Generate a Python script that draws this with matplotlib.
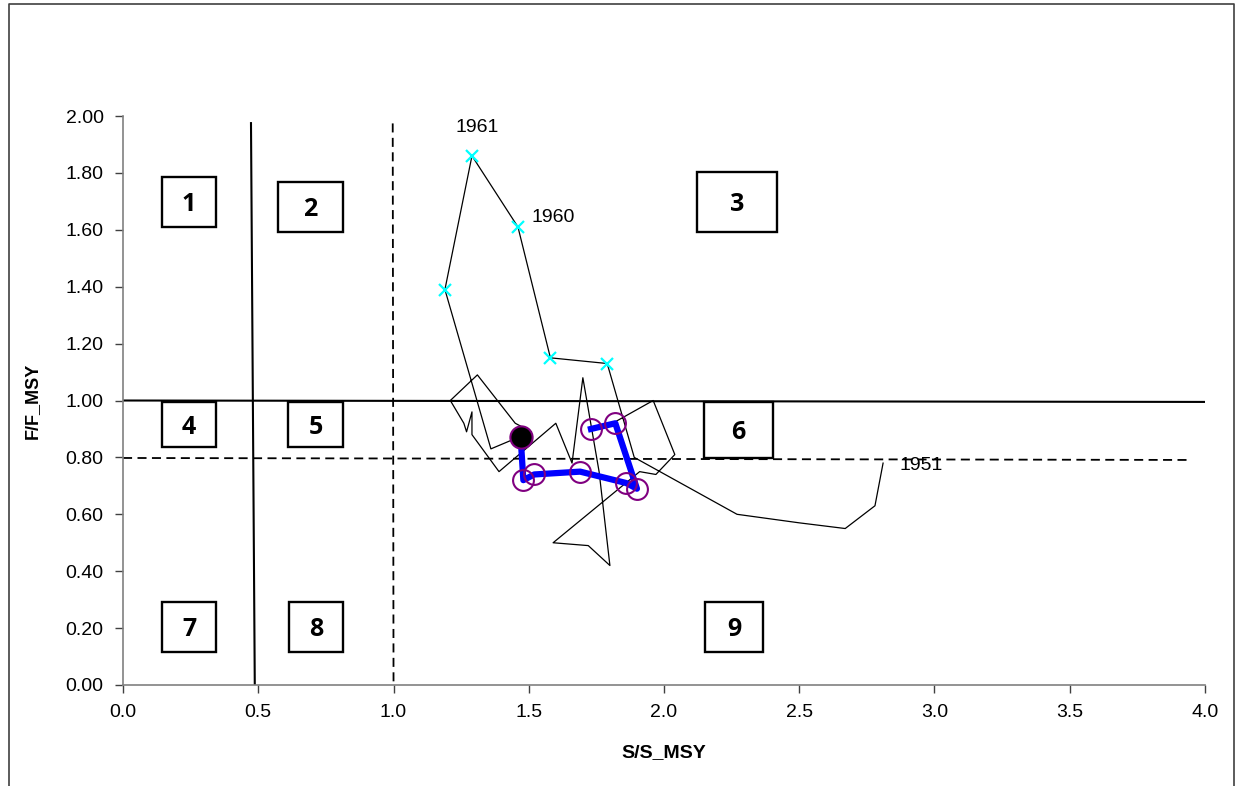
import matplotlib
matplotlib.use('Agg')
import matplotlib.pyplot as plt
from matplotlib.patches import Rectangle
from matplotlib.lines import Line2D

# stock trajectory S/S_MSY, F/F_MSY (1951 first)
traj_s = [2.81, 2.78, 2.67, 2.50, 2.27, 1.89, 1.79, 1.58, 1.46, 1.29, 1.19,
          1.36, 1.51, 1.45, 1.31, 1.21, 1.26, 1.27, 1.29, 1.29, 1.39, 1.60,
          1.66, 1.70, 1.76, 1.80, 1.72, 1.59, 1.91, 1.97, 2.04, 1.96, 1.81]
traj_f = [0.78, 0.63, 0.55, 0.57, 0.60, 0.80, 1.13, 1.15, 1.61, 1.86, 1.39,
          0.83, 0.89, 0.92, 1.09, 1.00, 0.92, 0.89, 0.96, 0.88, 0.75, 0.92,
          0.78, 1.08, 0.75, 0.42, 0.49, 0.50, 0.75, 0.74, 0.81, 1.00, 0.92]
# years marked with a cross (indices into the trajectory)
cross_idx = [6, 7, 8, 9, 10]

# recent years
recent_s = [1.73, 1.82, 1.90, 1.86, 1.69, 1.52, 1.48, 1.47]
recent_f = [0.90, 0.92, 0.69, 0.71, 0.75, 0.74, 0.72, 0.87]

year_labels = ['1961', '1960', '1951']
year_pos = [(1.23, 1.96), (1.51, 1.645), (2.87, 0.77)]

zone_labels = ['1', '2', '3', '4', '5', '6', '7', '8', '9']
# box extents x0, x1, y0, y1
zone_boxes = [(0.144, 0.344, 1.610, 1.786), (0.573, 0.813, 1.592, 1.768),
              (2.122, 2.418, 1.592, 1.803), (0.144, 0.344, 0.837, 0.995),
              (0.610, 0.813, 0.837, 0.995), (2.148, 2.403, 0.798, 0.995),
              (0.144, 0.344, 0.116, 0.292), (0.614, 0.813, 0.116, 0.292),
              (2.152, 2.366, 0.116, 0.292)]

plt.rcParams['font.family'] = ['Liberation Sans', 'DejaVu Sans']

fig = plt.figure(figsize=(12.38, 7.86), dpi=100)
fig.add_artist(Line2D([0.0073, 0.0073, 0.9968, 0.9968], [0.0, 0.9949, 0.9949, 0.0],
                      color='#404040', lw=1.2, transform=fig.transFigure))

ax = fig.add_axes([0.0994, 0.1285, 0.8739, 0.7239])
ax.set_xlim(0, 4.0)
ax.set_ylim(0, 2.0)
for sp in ['top', 'right']:
   ax.spines[sp].set_visible(False)
for sp in ['left', 'bottom']:
   ax.spines[sp].set_color('#808080')
   ax.spines[sp].set_linewidth(1.2)
ax.set_xticks([0.0, 0.5, 1.0, 1.5, 2.0, 2.5, 3.0, 3.5, 4.0])
ax.set_xticklabels(['%.1f' % v for v in ax.get_xticks()])
ax.set_yticks([0.0, 0.2, 0.4, 0.6, 0.8, 1.0, 1.2, 1.4, 1.6, 1.8, 2.0])
ax.set_yticklabels(['%.2f' % v for v in ax.get_yticks()])
ax.tick_params(direction='out', length=6, width=1, color='#404040', labelsize=14, pad=8)
ax.set_xlabel('S/S_MSY', fontsize=14, fontweight='bold', labelpad=16)
ax.set_ylabel('F/F_MSY', fontsize=13, fontweight='bold', labelpad=18)

# reference lines
ax.plot([0.473, 0.487], [1.975, 0.0], color='black', lw=1.5)
ax.plot([0.997, 1.0], [1.974, 0.0], color='black', lw=1.3, ls=(0, (5, 3)))
ax.plot([0.0, 4.0], [1.0, 0.995], color='black', lw=1.5)
ax.plot([0.0, 3.95], [0.798, 0.791], color='black', lw=1.3, ls=(0, (5, 3)))

# zone boxes
for lab, (x0, x1, y0, y1) in zip(zone_labels, zone_boxes):
   ax.add_patch(Rectangle((x0, y0), x1 - x0, y1 - y0, fill=True, facecolor='white',
                          edgecolor='black', lw=1.7, zorder=3))
   ax.text((x0 + x1) / 2, (y0 + y1) / 2 - 0.01, lab, ha='center', va='center',
           fontsize=18, fontweight='bold', family=['Open Sans', 'DejaVu Sans'], zorder=4)

# trajectory
ax.plot(traj_s, traj_f, color='black', lw=0.9, zorder=5)
ax.plot([traj_s[i] for i in cross_idx], [traj_f[i] for i in cross_idx], 'x',
        color='#00FFFF', ms=8, mew=1.6, zorder=6)
ax.plot(recent_s, recent_f, color='#0000FF', lw=4.5, zorder=7)
ax.plot(recent_s[:-1], recent_f[:-1], 'o', ms=15, mfc='none', mec='#800080',
        mew=1.5, zorder=8)
ax.plot(recent_s[-1:], recent_f[-1:], 'o', ms=16, mfc='black', mec='#800080',
        mew=1.5, zorder=9)

for lab, (x, y) in zip(year_labels, year_pos):
   ax.text(x, y, lab, ha='left', va='center', fontsize=14, zorder=10)

fig.savefig('out.png', dpi=100)
